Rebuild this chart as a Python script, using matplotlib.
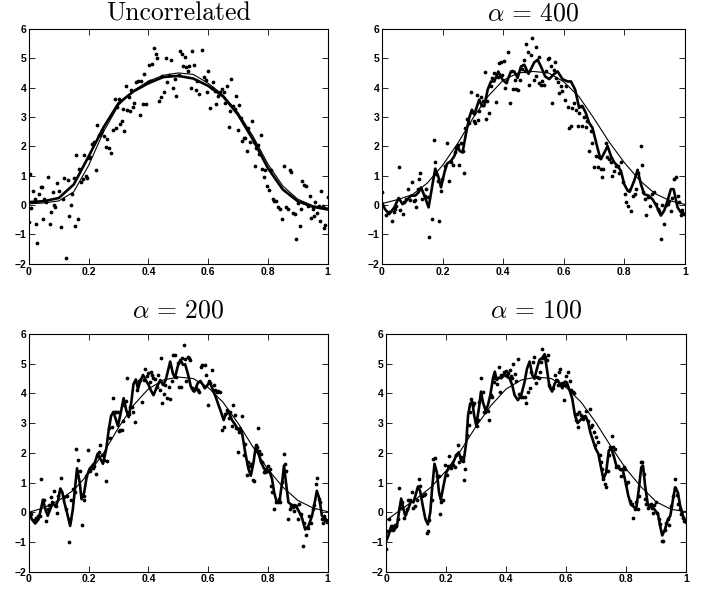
import matplotlib
matplotlib.use("Agg")
import matplotlib.pyplot as plt
import numpy as np

plt.rcParams["mathtext.fontset"] = "cm"
plt.rcParams["axes.unicode_minus"] = True

titles = ["Uncorrelated", r"$\alpha\,=\,400$", r"$\alpha\,=\,200$", r"$\alpha\,=\,100$"]
xticks = [0, 0.2, 0.4, 0.6, 0.8, 1]
xticklabels = ["0", "0.2", "0.4", "0.6", "0.8", "1"]
yticks = [-2, -1, 0, 1, 2, 3, 4, 5, 6]

grid_x = [0, 0.05, 0.1, 0.15, 0.2, 0.25, 0.3, 0.35, 0.4, 0.45, 0.5,
          0.55, 0.6, 0.65, 0.7, 0.75, 0.8, 0.85, 0.9, 0.95, 1.0]

# ---- panel 1: uncorrelated ----
p1 = [(0.002, 1.04), (0.000, -0.58), (0.008, -0.10), (0.012, 0.47), (0.019, 0.19), (0.023, -0.63),
      (0.028, -1.31), (0.032, 0.38), (0.039, 0.62), (0.044, 0.62), (0.048, -0.49), (0.052, 0.19),
      (0.056, 0.10), (0.064, 0.96), (0.069, -0.65), (0.075, -0.23), (0.079, 0.43), (0.084, 0.00),
      (0.088, -0.07), (0.095, 0.75), (0.102, 0.49), (0.108, -0.74), (0.113, 0.19), (0.117, 0.93),
      (0.123, -1.80), (0.131, 0.84), (0.135, -0.36), (0.140, 0.00), (0.143, 0.36), (0.150, 0.93),
      (0.153, -0.70), (0.158, 1.70), (0.164, -0.49), (0.169, 1.24), (0.173, 0.79), (0.180, 0.88),
      (0.183, 1.70), (0.191, 1.00), (0.196, 0.93), (0.200, 1.59), (0.205, 1.63), (0.211, 2.09),
      (0.217, 2.14), (0.224, 1.19), (0.229, 2.73), (0.234, 2.37), (0.241, 2.45), (0.246, 2.57),
      (0.251, 2.34), (0.258, 1.97), (0.263, 2.25), (0.268, 1.94), (0.276, 1.77), (0.281, 2.57),
      (0.287, 3.62), (0.292, 2.62), (0.295, 3.33), (0.300, 3.62), (0.304, 2.76), (0.310, 2.85),
      (0.314, 3.28), (0.319, 2.53), (0.325, 4.06), (0.328, 3.25), (0.334, 3.67), (0.338, 3.19),
      (0.343, 3.93), (0.348, 3.33), (0.353, 3.47), (0.358, 4.20), (0.364, 4.21), (0.371, 3.05),
      (0.374, 4.24), (0.381, 3.45), (0.386, 4.47), (0.392, 3.44), (0.397, 4.20), (0.402, 4.78),
      (0.407, 4.23), (0.413, 4.81), (0.419, 5.34), (0.425, 5.15), (0.429, 5.00), (0.436, 3.56),
      (0.441, 3.68), (0.446, 4.38), (0.451, 3.84), (0.458, 5.00), (0.462, 4.19), (0.469, 4.44),
      (0.474, 4.95), (0.484, 3.98), (0.490, 4.31), (0.493, 3.73), (0.501, 4.44), (0.506, 5.25),
      (0.512, 5.15), (0.516, 4.75), (0.521, 5.03), (0.527, 4.69), (0.531, 4.57), (0.537, 4.72),
      (0.542, 3.98), (0.547, 5.25), (0.554, 4.78), (0.558, 3.93), (0.562, 4.21), (0.569, 3.78),
      (0.579, 5.29), (0.585, 4.36), (0.592, 4.27), (0.596, 3.84), (0.600, 4.55), (0.606, 3.30),
      (0.612, 4.00), (0.616, 4.18), (0.622, 3.87), (0.627, 3.44), (0.634, 3.70), (0.641, 3.84),
      (0.646, 3.95), (0.652, 3.84), (0.658, 3.47), (0.663, 4.04), (0.669, 2.65), (0.674, 3.22),
      (0.676, 4.31), (0.682, 3.38), (0.689, 3.28), (0.692, 3.70), (0.699, 2.57), (0.704, 3.42),
      (0.710, 2.96), (0.715, 2.18), (0.720, 2.28), (0.725, 2.28), (0.731, 1.83), (0.735, 2.62),
      (0.741, 2.15), (0.746, 2.87), (0.752, 2.15), (0.757, 1.32), (0.761, 1.94), (0.767, 2.06),
      (0.772, 1.74), (0.777, 2.37), (0.781, 1.24), (0.787, 0.96), (0.792, 1.21), (0.798, 0.65),
      (0.804, 0.52), (0.810, 1.18), (0.816, 0.19), (0.821, 0.15), (0.827, 0.13), (0.834, -0.06),
      (0.839, -0.15), (0.847, -0.49), (0.854, 1.34), (0.862, -0.06), (0.866, -0.12), (0.873, 1.18),
      (0.877, 1.11), (0.884, -0.27), (0.890, -0.32), (0.893, -1.15), (0.901, 0.07), (0.906, -0.72),
      (0.912, -0.13), (0.916, 0.82), (0.922, 0.67), (0.929, 0.65), (0.933, -0.02), (0.940, 0.30),
      (0.945, -0.43), (0.950, -0.15), (0.953, -0.36), (0.959, 0.10), (0.963, -0.27), (0.970, -0.04),
      (0.973, -0.53), (0.978, 0.47), (0.983, -0.02), (0.989, -0.78), (0.993, -0.69), (1.000, 0.26)]
p1_fit = [0.10, 0.13, 0.24, 0.70, 1.66, 2.65, 3.47, 3.87, 4.15, 4.36, 4.40,
          4.31, 4.06, 3.70, 3.08, 2.23, 1.26, 0.53, 0.13, -0.06, -0.15]
p1_thin = [0.04, 0.07, 0.14, 0.45, 1.35, 2.50, 3.40, 3.90, 4.22, 4.42, 4.50,
           4.45, 4.15, 3.75, 3.15, 2.35, 1.40, 0.65, 0.20, -0.02, -0.10]

# ---- panel 2: alpha = 400 ----
p2 = [(0.000, 0.45), (0.015, -0.33), (0.024, -0.23), (0.033, -0.53), (0.039, -0.23), (0.044, -0.12),
      (0.048, -0.02), (0.055, 1.28), (0.061, -0.16), (0.068, -0.31), (0.074, 0.09), (0.081, 0.20),
      (0.087, 0.54), (0.092, 0.16), (0.098, 0.77), (0.105, 0.15), (0.110, 0.16), (0.112, -0.08),
      (0.118, 0.54), (0.121, 0.88), (0.127, 1.08), (0.133, 0.20), (0.141, 0.32), (0.146, 0.56),
      (0.151, 0.26), (0.156, -1.10), (0.164, -0.48), (0.171, 2.20), (0.176, 1.48), (0.178, 1.05),
      (0.184, 0.83), (0.190, -0.56), (0.196, 0.47), (0.198, 0.87), (0.207, 1.33), (0.215, 2.11),
      (0.221, 0.83), (0.227, 1.47), (0.233, 1.36), (0.240, 1.79), (0.245, 1.95), (0.250, 2.03),
      (0.255, 1.37), (0.261, 2.12), (0.266, 1.84), (0.270, 1.10), (0.275, 2.63), (0.281, 2.92),
      (0.287, 2.80), (0.293, 3.85), (0.299, 3.16), (0.304, 2.86), (0.308, 2.80), (0.314, 3.76),
      (0.318, 2.88), (0.321, 3.20), (0.327, 3.68), (0.334, 3.55), (0.339, 4.53), (0.343, 2.92),
      (0.348, 3.56), (0.352, 3.14), (0.360, 4.05), (0.365, 4.33), (0.370, 4.50), (0.376, 3.50),
      (0.382, 4.36), (0.387, 4.84), (0.393, 4.86), (0.398, 4.44), (0.402, 4.89), (0.407, 3.99),
      (0.411, 4.20), (0.417, 5.23), (0.422, 3.48), (0.428, 4.58), (0.433, 3.94), (0.440, 4.27),
      (0.444, 3.95), (0.450, 3.93), (0.455, 4.27), (0.462, 4.63), (0.468, 4.95), (0.472, 4.55),
      (0.476, 5.47), (0.482, 5.20), (0.487, 4.09), (0.492, 5.12), (0.497, 5.68), (0.503, 4.27),
      (0.507, 4.38), (0.510, 5.38), (0.517, 5.04), (0.520, 4.16), (0.525, 4.10), (0.530, 4.21),
      (0.536, 4.08), (0.541, 4.55), (0.547, 4.97), (0.552, 5.00), (0.559, 4.72), (0.563, 3.48),
      (0.568, 4.61), (0.572, 4.86), (0.576, 4.33), (0.580, 4.18), (0.585, 3.82), (0.591, 4.07),
      (0.596, 3.88), (0.603, 3.59), (0.607, 4.05), (0.613, 3.34), (0.618, 2.63), (0.624, 2.69),
      (0.629, 3.31), (0.635, 3.48), (0.640, 3.25), (0.646, 2.69), (0.651, 3.14), (0.657, 3.37),
      (0.662, 2.69), (0.668, 2.99), (0.673, 2.67), (0.677, 2.86), (0.684, 1.84), (0.689, 2.52),
      (0.695, 2.12), (0.701, 1.28), (0.706, 1.67), (0.712, 1.28), (0.717, 1.62), (0.722, 1.22),
      (0.726, 0.94), (0.730, 1.22), (0.739, 2.12), (0.744, 1.62), (0.750, 1.56), (0.756, 1.45),
      (0.761, 1.00), (0.767, 1.16), (0.772, 1.33), (0.778, 1.33), (0.783, 1.10), (0.789, 1.48),
      (0.796, 0.79), (0.801, 0.37), (0.806, 0.09), (0.811, -0.02), (0.816, 0.52), (0.823, -0.19),
      (0.829, 0.32), (0.836, 0.37), (0.840, 0.54), (0.847, 1.10), (0.854, 2.01), (0.858, 1.36),
      (0.862, 0.43), (0.869, 0.20), (0.873, -0.34), (0.880, 0.26), (0.886, -0.02), (0.893, 0.37),
      (0.899, 0.45), (0.904, 0.03), (0.910, -0.12), (0.915, -0.19), (0.921, -1.15), (0.926, 0.00),
      (0.932, -0.65), (0.937, 0.00), (0.943, 0.03), (0.948, 0.15), (0.954, -0.19), (0.959, 0.23),
      (0.965, 0.88), (0.970, 0.94), (0.976, 0.32), (0.981, 0.09), (0.986, -0.34), (0.992, -0.16),
      (0.998, -0.31)]
p2_fit = [(0.000, 0.09), (0.010, -0.14), (0.024, -0.31), (0.041, -0.08), (0.055, 0.24), (0.068, 0.03),
          (0.081, 0.15), (0.096, 0.32), (0.110, 0.32), (0.121, 0.43), (0.129, 0.60), (0.140, 0.32),
          (0.154, -0.08), (0.167, 0.71), (0.176, 1.24), (0.187, 0.94), (0.195, 0.60), (0.206, 1.10),
          (0.215, 1.41), (0.228, 1.50), (0.239, 1.67), (0.250, 2.01), (0.257, 1.84), (0.266, 1.79),
          (0.277, 2.41), (0.288, 2.97), (0.297, 3.25), (0.305, 3.08), (0.314, 3.37), (0.321, 3.59),
          (0.330, 3.37), (0.338, 3.37), (0.349, 3.93), (0.360, 4.21), (0.371, 4.21), (0.384, 4.55),
          (0.398, 4.27), (0.411, 4.16), (0.426, 4.55), (0.437, 4.55), (0.448, 4.33), (0.459, 4.72),
          (0.470, 4.78), (0.484, 4.47), (0.503, 4.86), (0.514, 4.95), (0.525, 4.72), (0.539, 4.38),
          (0.552, 4.29), (0.569, 4.47), (0.580, 4.55), (0.596, 4.29), (0.613, 4.21), (0.624, 4.21),
          (0.638, 3.93), (0.651, 3.31), (0.662, 3.37), (0.673, 3.14), (0.684, 2.80), (0.695, 2.63),
          (0.706, 2.18), (0.717, 1.73), (0.723, 1.56), (0.737, 1.84), (0.745, 2.01), (0.756, 1.67),
          (0.767, 1.45), (0.778, 1.33), (0.789, 1.16), (0.800, 0.71), (0.811, 0.49), (0.818, 0.45),
          (0.833, 0.83), (0.844, 1.20), (0.855, 0.71), (0.866, 0.37), (0.880, 0.32), (0.893, 0.20),
          (0.906, -0.02), (0.921, -0.36), (0.932, -0.19), (0.943, 0.15), (0.954, 0.54), (0.963, 0.54),
          (0.976, -0.08), (0.987, -0.25), (1.000, -0.31)]
p2_thin = [0.05, 0.18, 0.35, 0.75, 1.35, 2.10, 2.95, 3.70, 4.25, 4.50, 4.55,
           4.50, 4.20, 3.70, 2.95, 2.15, 1.45, 0.85, 0.40, 0.15, 0.02]

# ---- panel 3: alpha = 200 ----
p3 = [(0.000, -0.03), (0.008, -0.07), (0.018, -0.27), (0.025, -0.18), (0.031, -0.12), (0.036, -0.12),
      (0.040, 1.12), (0.046, 0.42), (0.051, 0.42), (0.057, -0.29), (0.063, 0.12), (0.068, 0.25),
      (0.074, 0.50), (0.078, 0.33), (0.084, 0.72), (0.089, 0.21), (0.094, -0.03), (0.098, 0.55),
      (0.105, 0.72), (0.108, 1.14), (0.116, 0.50), (0.123, 0.10), (0.129, 0.55), (0.135, -0.99),
      (0.138, -0.21), (0.142, 0.42), (0.148, 0.78), (0.155, 0.67), (0.158, 2.14), (0.164, 1.76),
      (0.172, 1.40), (0.179, -0.44), (0.183, 0.55), (0.186, 0.42), (0.191, 1.23), (0.199, 2.11),
      (0.203, 1.40), (0.209, 1.48), (0.213, 1.49), (0.219, 1.57), (0.224, 1.29), (0.230, 1.89),
      (0.234, 2.02), (0.239, 2.25), (0.244, 1.93), (0.250, 1.77), (0.257, 1.05), (0.263, 1.72),
      (0.268, 2.82), (0.273, 2.49), (0.279, 2.88), (0.283, 3.84), (0.288, 3.39), (0.292, 3.36),
      (0.297, 3.39), (0.302, 2.75), (0.306, 2.77), (0.311, 2.77), (0.315, 3.07), (0.319, 3.60),
      (0.325, 3.73), (0.330, 4.52), (0.335, 3.32), (0.340, 3.55), (0.346, 3.54), (0.350, 3.39),
      (0.356, 3.04), (0.362, 4.11), (0.367, 4.40), (0.373, 4.45), (0.377, 3.72), (0.384, 4.45),
      (0.390, 4.81), (0.395, 4.58), (0.398, 4.67), (0.404, 4.37), (0.408, 4.73), (0.413, 4.62),
      (0.417, 4.51), (0.423, 4.49), (0.429, 4.23), (0.433, 4.62), (0.438, 4.11), (0.442, 5.19),
      (0.446, 3.69), (0.451, 3.97), (0.456, 4.28), (0.462, 3.83), (0.468, 4.23), (0.473, 3.81),
      (0.479, 4.40), (0.484, 5.30), (0.489, 5.30), (0.493, 4.56), (0.498, 5.02), (0.503, 4.23),
      (0.509, 4.23), (0.513, 5.19), (0.518, 5.62), (0.522, 5.15), (0.527, 4.42), (0.531, 5.24),
      (0.536, 5.19), (0.540, 5.13), (0.546, 4.17), (0.550, 4.11), (0.556, 4.14), (0.560, 4.17),
      (0.566, 4.11), (0.570, 4.06), (0.576, 4.90), (0.581, 4.94), (0.588, 4.94), (0.594, 4.62),
      (0.598, 3.60), (0.603, 4.42), (0.607, 4.34), (0.612, 4.79), (0.618, 4.28), (0.623, 4.11),
      (0.629, 4.06), (0.634, 4.08), (0.641, 4.06), (0.646, 2.77), (0.652, 2.88), (0.656, 3.32),
      (0.663, 3.43), (0.669, 3.16), (0.674, 3.39), (0.680, 2.91), (0.684, 3.60), (0.690, 3.28),
      (0.695, 2.82), (0.701, 2.02), (0.705, 2.71), (0.710, 2.71), (0.715, 3.25), (0.720, 1.91),
      (0.725, 2.30), (0.731, 1.25), (0.735, 1.68), (0.740, 1.57), (0.744, 1.63), (0.750, 1.08),
      (0.754, 1.06), (0.759, 2.25), (0.762, 2.19), (0.767, 2.84), (0.772, 2.05), (0.777, 1.97),
      (0.781, 1.68), (0.786, 1.34), (0.791, 1.34), (0.795, 1.46), (0.800, 1.55), (0.806, 1.44),
      (0.810, 0.89), (0.815, 0.67), (0.821, 0.12), (0.828, 0.33), (0.833, 0.35), (0.837, 0.44),
      (0.842, 0.33), (0.848, 1.03), (0.853, 1.97), (0.856, 1.63), (0.862, 1.38), (0.866, -0.21),
      (0.873, 0.10), (0.877, 0.21), (0.883, 0.19), (0.888, 0.05), (0.893, 0.21), (0.900, -0.24),
      (0.904, 0.27), (0.912, -0.05), (0.917, -1.12), (0.922, -0.37), (0.927, -0.78), (0.933, -0.54),
      (0.939, -0.12), (0.944, -0.36), (0.950, 0.10), (0.954, 0.24), (0.960, 0.95), (0.964, 1.14),
      (0.970, 0.44), (0.975, 0.33), (0.980, -0.24), (0.984, -0.35), (0.989, -0.12), (0.993, -0.26),
      (0.998, -0.33)]
p3_fit = [(0.000, 0.00), (0.010, -0.24), (0.021, -0.38), (0.032, -0.24), (0.040, 0.10), (0.047, 0.42),
          (0.055, 0.10), (0.063, -0.12), (0.071, 0.10), (0.080, 0.31), (0.089, 0.19), (0.098, 0.42),
          (0.105, 0.80), (0.112, 0.67), (0.118, 0.35), (0.127, 0.00), (0.138, -0.46), (0.147, 0.10),
          (0.154, 0.78), (0.161, 1.48), (0.170, 1.00), (0.176, 0.44), (0.185, 0.67), (0.194, 1.23),
          (0.203, 1.46), (0.212, 1.57), (0.221, 1.68), (0.230, 1.97), (0.239, 1.80), (0.248, 1.63),
          (0.259, 2.14), (0.267, 2.76), (0.275, 3.24), (0.283, 3.38), (0.298, 2.90), (0.308, 3.38),
          (0.317, 3.84), (0.326, 3.43), (0.334, 3.20), (0.343, 3.72), (0.350, 4.31), (0.358, 4.47),
          (0.365, 4.15), (0.373, 4.42), (0.382, 4.62), (0.391, 4.45), (0.401, 4.28), (0.408, 4.11),
          (0.417, 3.94), (0.429, 4.23), (0.440, 4.45), (0.449, 4.28), (0.458, 4.45), (0.467, 4.82),
          (0.473, 5.07), (0.482, 4.67), (0.489, 4.53), (0.498, 4.90), (0.507, 5.13), (0.516, 4.96),
          (0.523, 4.98), (0.532, 4.67), (0.542, 4.23), (0.554, 4.06), (0.565, 4.34), (0.574, 4.42),
          (0.583, 4.28), (0.589, 4.17), (0.598, 4.28), (0.605, 4.40), (0.614, 4.17), (0.625, 3.89),
          (0.635, 3.60), (0.643, 3.38), (0.652, 3.10), (0.658, 3.27), (0.669, 3.38), (0.680, 3.10),
          (0.691, 2.94), (0.701, 2.77), (0.708, 2.84), (0.715, 2.59), (0.724, 2.02), (0.735, 1.46),
          (0.743, 1.23), (0.752, 1.68), (0.759, 2.19), (0.768, 2.02), (0.777, 1.68), (0.788, 1.46),
          (0.797, 1.34), (0.806, 1.37), (0.814, 1.12), (0.821, 0.67), (0.830, 0.33), (0.839, 0.38),
          (0.848, 1.01), (0.854, 1.57), (0.862, 0.89), (0.869, 0.33), (0.881, 0.24), (0.892, 0.24),
          (0.903, 0.05), (0.914, -0.18), (0.925, -0.58), (0.936, -0.46), (0.948, -0.12), (0.959, 0.44),
          (0.964, 0.72), (0.973, 0.44), (0.981, -0.12), (0.992, -0.21), (1.000, -0.29)]
p3_thin = [0.00, 0.15, 0.40, 0.75, 1.30, 2.00, 2.85, 3.60, 4.15, 4.45, 4.55,
           4.50, 4.20, 3.70, 3.00, 2.20, 1.45, 0.85, 0.40, 0.15, 0.02]

# ---- panel 4: alpha = 100 ----
p4 = [(0.000, -1.25), (0.003, -0.63), (0.009, -0.21), (0.013, -0.58), (0.019, -0.46), (0.024, -0.58),
      (0.029, -0.44), (0.033, -0.46), (0.038, -0.21), (0.043, 0.80), (0.048, 0.16), (0.053, 0.33),
      (0.059, -0.18), (0.064, -0.07), (0.069, 0.10), (0.074, 0.42), (0.080, 0.42), (0.086, 0.67),
      (0.091, 0.16), (0.097, 0.21), (0.102, 0.42), (0.108, 1.12), (0.113, 0.87), (0.120, 0.55),
      (0.126, 0.58), (0.131, 0.61), (0.136, -0.69), (0.140, -0.63), (0.144, -0.26), (0.152, 0.42),
      (0.157, 1.80), (0.162, 1.82), (0.169, 1.23), (0.176, 1.23), (0.179, -0.07), (0.183, 0.35),
      (0.189, 0.42), (0.196, 1.59), (0.202, 1.25), (0.207, 1.55), (0.211, 1.88), (0.217, 1.48),
      (0.222, 1.59), (0.228, 1.51), (0.233, 1.91), (0.239, 2.25), (0.244, 1.68), (0.250, 1.85),
      (0.256, 1.74), (0.260, 1.10), (0.264, 1.46), (0.271, 2.59), (0.276, 2.95), (0.280, 3.38),
      (0.282, 3.81), (0.289, 3.60), (0.294, 3.66), (0.298, 3.04), (0.302, 2.89), (0.307, 3.10),
      (0.311, 3.72), (0.316, 4.53), (0.322, 4.06), (0.326, 3.38), (0.329, 3.38), (0.334, 3.43),
      (0.339, 3.41), (0.344, 3.10), (0.349, 3.94), (0.353, 3.89), (0.360, 4.37), (0.364, 4.51),
      (0.370, 4.31), (0.376, 4.90), (0.380, 4.06), (0.384, 4.62), (0.389, 4.62), (0.393, 4.71),
      (0.398, 4.76), (0.402, 4.62), (0.407, 4.68), (0.411, 4.79), (0.416, 4.60), (0.420, 4.51),
      (0.424, 4.98), (0.429, 4.64), (0.433, 4.40), (0.439, 5.16), (0.444, 3.97), (0.450, 3.89),
      (0.456, 3.89), (0.461, 3.89), (0.467, 3.66), (0.472, 4.06), (0.478, 4.17), (0.483, 4.73),
      (0.489, 5.07), (0.492, 5.24), (0.498, 4.34), (0.502, 4.56), (0.508, 4.51), (0.513, 4.73),
      (0.517, 5.07), (0.520, 5.50), (0.524, 5.19), (0.530, 5.24), (0.536, 5.13), (0.540, 5.30),
      (0.544, 4.28), (0.550, 4.17), (0.556, 4.19), (0.561, 4.62), (0.567, 4.45), (0.571, 4.28),
      (0.576, 4.73), (0.580, 4.82), (0.586, 4.34), (0.591, 3.77), (0.597, 4.28), (0.600, 4.60),
      (0.606, 4.71), (0.611, 4.40), (0.616, 4.11), (0.622, 4.06), (0.627, 4.00), (0.631, 3.10),
      (0.636, 3.32), (0.640, 2.87), (0.644, 3.38), (0.650, 3.27), (0.656, 3.15), (0.661, 3.21),
      (0.667, 3.40), (0.672, 3.06), (0.678, 3.49), (0.681, 2.87), (0.686, 2.93), (0.691, 2.70),
      (0.696, 2.25), (0.700, 2.53), (0.706, 2.36), (0.711, 1.93), (0.716, 1.68), (0.720, 1.46),
      (0.724, 1.12), (0.730, 0.95), (0.733, 0.84), (0.738, 1.40), (0.742, 1.91), (0.747, 2.19),
      (0.751, 2.56), (0.756, 2.19), (0.761, 2.14), (0.767, 1.51), (0.771, 1.57), (0.778, 1.46),
      (0.782, 1.23), (0.787, 1.46), (0.791, 1.51), (0.796, 1.46), (0.800, 0.95), (0.806, 1.01),
      (0.811, 0.38), (0.816, 0.27), (0.820, 0.27), (0.824, -0.18), (0.829, 0.10), (0.833, 0.33),
      (0.839, 0.10), (0.843, 0.55), (0.848, 1.68), (0.853, 1.68), (0.858, 1.29), (0.863, 0.44),
      (0.867, 0.27), (0.871, 0.16), (0.876, 0.21), (0.881, 0.27), (0.886, 0.16), (0.890, -0.01),
      (0.894, 0.24), (0.900, 0.35), (0.904, -0.01), (0.909, -0.21), (0.913, -0.38), (0.918, -0.97),
      (0.924, -0.97), (0.929, -0.58), (0.933, -0.37), (0.938, -0.21), (0.944, -0.44), (0.950, 0.21),
      (0.956, 0.55), (0.961, 1.12), (0.964, 0.80), (0.969, 0.58), (0.973, 0.27), (0.978, 0.12),
      (0.983, -0.07), (0.989, -0.18), (0.994, -0.29)]
p4_fit = [(0.000, -0.97), (0.007, -0.80), (0.017, -0.46), (0.028, -0.58), (0.036, -0.46), (0.044, 0.10),
          (0.050, 0.46), (0.058, 0.10), (0.064, -0.12), (0.073, 0.10), (0.083, 0.38), (0.091, 0.33),
          (0.098, 0.58), (0.106, 0.87), (0.113, 0.72), (0.122, 0.21), (0.131, -0.24), (0.139, -0.41),
          (0.147, 0.00), (0.153, 0.78), (0.161, 1.63), (0.169, 1.34), (0.176, 0.67), (0.182, 0.42),
          (0.191, 0.89), (0.200, 1.34), (0.211, 1.51), (0.222, 1.63), (0.233, 1.91), (0.242, 2.02),
          (0.250, 1.74), (0.258, 1.71), (0.267, 2.36), (0.273, 3.27), (0.280, 3.66), (0.287, 3.72),
          (0.293, 3.27), (0.300, 2.93), (0.309, 3.49), (0.316, 4.06), (0.322, 3.72), (0.331, 3.43),
          (0.339, 3.60), (0.347, 3.94), (0.356, 4.51), (0.362, 4.73), (0.369, 4.45), (0.376, 4.53),
          (0.384, 4.51), (0.394, 4.64), (0.402, 4.56), (0.411, 4.51), (0.420, 4.28), (0.428, 3.94),
          (0.439, 3.77), (0.450, 3.94), (0.461, 4.37), (0.469, 4.82), (0.478, 5.07), (0.487, 4.62),
          (0.494, 4.49), (0.503, 4.85), (0.511, 5.13), (0.520, 5.19), (0.528, 5.32), (0.537, 4.73),
          (0.544, 4.23), (0.553, 4.06), (0.562, 4.34), (0.571, 4.45), (0.580, 4.31), (0.587, 4.17),
          (0.596, 4.40), (0.602, 4.37), (0.611, 4.11), (0.620, 3.83), (0.629, 3.27), (0.638, 3.00),
          (0.647, 3.10), (0.656, 3.21), (0.664, 3.24), (0.673, 3.04), (0.680, 2.70), (0.689, 2.42),
          (0.698, 2.14), (0.707, 1.97), (0.716, 1.51), (0.724, 1.12), (0.733, 1.34), (0.742, 2.08),
          (0.750, 2.14), (0.758, 1.91), (0.767, 1.57), (0.778, 1.46), (0.789, 1.40), (0.798, 1.01),
          (0.807, 0.55), (0.816, 0.27), (0.833, 0.10), (0.842, 0.78), (0.850, 1.51), (0.856, 1.57),
          (0.863, 0.89), (0.872, 0.27), (0.883, 0.21), (0.894, 0.10), (0.906, -0.07), (0.913, -0.46),
          (0.920, -0.78), (0.929, -0.58), (0.939, -0.24), (0.947, -0.12), (0.956, 0.44), (0.963, 0.84),
          (0.972, 0.67), (0.980, 0.21), (0.989, -0.12), (1.000, -0.35)]
p4_thin = [-0.28, 0.10, 0.45, 0.85, 1.40, 2.10, 2.90, 3.60, 4.15, 4.45, 4.55,
           4.50, 4.20, 3.70, 3.00, 2.20, 1.45, 0.85, 0.35, 0.10, 0.02]

# axes rectangles in figure fractions (left, bottom, width, height)
rects = [[0.041, 0.553, 0.423, 0.398],
         [0.541, 0.553, 0.429, 0.398],
         [0.041, 0.031, 0.423, 0.403],
         [0.547, 0.031, 0.425, 0.403]]
title_pads = [6, 6, 12, 12]

fig = plt.figure(figsize=(7.06, 5.90), dpi=100)

panels = [
    (p1, [(x, y) for x, y in zip(grid_x, p1_fit)], p1_thin),
    (p2, p2_fit, p2_thin),
    (p3, p3_fit, p3_thin),
    (p4, p4_fit, p4_thin),
]

for i, (pts, fit, thin) in enumerate(panels):
    ax = fig.add_axes(rects[i])
    px, py = zip(*pts)
    fx, fy = zip(*fit)
    ax.plot(px, py, ".", color="black", markersize=3.4)
    ax.plot(grid_x, thin, "-", color="black", linewidth=0.8)
    ax.plot(fx, fy, "-", color="black", linewidth=1.9)
    ax.set_xlim(0, 1)
    ax.set_ylim(-2, 6)
    ax.set_xticks(xticks)
    ax.set_xticklabels(xticklabels)
    ax.set_yticks(yticks)
    ax.tick_params(direction="in", top=True, right=True, length=4, width=0.6, pad=2,
                   labelsize=7.5)
    for lab in ax.get_xticklabels() + ax.get_yticklabels():
        lab.set_fontfamily("Liberation Sans")
        lab.set_fontweight("bold")
    for sp in ax.spines.values():
        sp.set_linewidth(0.8)
    if i == 0:
        ax.set_title(titles[i], fontfamily="cmr10", fontsize=18.5, pad=title_pads[i])
    else:
        ax.set_title(titles[i], fontsize=18.5, pad=title_pads[i])

fig.savefig("out.png", dpi=100)
